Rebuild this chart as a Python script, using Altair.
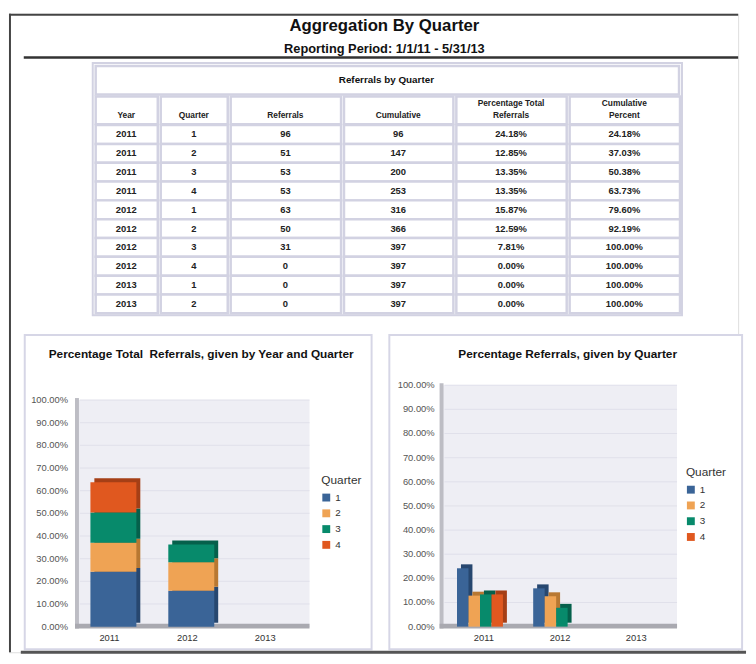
import altair as alt
import pandas as pd

# ---------------- data ----------------
years = ["2011", "2011", "2011", "2011", "2012", "2012", "2012", "2012", "2013", "2013"]
quarters = ["1", "2", "3", "4", "1", "2", "3", "4", "1", "2"]
referrals = [96, 51, 53, 53, 63, 50, 31, 0, 0, 0]
cumulative = [96, 147, 200, 253, 316, 366, 397, 397, 397, 397]
pct_total = [24.18, 12.85, 13.35, 13.35, 15.87, 12.59, 7.81, 0.00, 0.00, 0.00]
cum_pct = [24.18, 37.03, 50.38, 63.73, 79.60, 92.19, 100.00, 100.00, 100.00, 100.00]

year_cats = ["2011", "2012", "2013"]
quarter_cats = ["1", "2", "3", "4"]
y_ticks = [0, 10, 20, 30, 40, 50, 60, 70, 80, 90, 100]

page_title = "Aggregation By Quarter"
page_subtitle = "Reporting Period: 1/1/11 - 5/31/13"
table_title = "Referrals by Quarter"
col_headers = ["Year", "Quarter", "Referrals", "Cumulative",
               "Percentage Total\nReferrals", "Cumulative\nPercent"]
left_title = "Percentage Total \u00a0Referrals, given by Year and Quarter"
right_title = "Percentage Referrals, given by Quarter"
legend_title = "Quarter"

# ---------------- styles ----------------
FONT = "Liberation Sans"
Q_COLORS = ["#3A6497", "#EFA354", "#078A6B", "#E0581F"]
Q_DARK = ["#27476F", "#B87832", "#05604B", "#A53F16"]
GRID_C = "#D2D2E2"
PLOT_BG = "#EEEEF4"

W, H = 740, 648


def P(v):
    return v - 8


dummy = pd.DataFrame({"d": [0]})


def box(x0, x1, y0, y1, fill, stroke=None, sw=0):
    kw = dict(fill=fill)
    if stroke:
        kw.update(stroke=stroke, strokeWidth=sw)
    else:
        kw.update(strokeWidth=0)
    return alt.Chart(dummy).mark_rect(**kw).encode(
        x=alt.value(P(x0)), x2=alt.value(P(x1)), y=alt.value(P(y0)), y2=alt.value(P(y1)))


def hline(x0, x1, y, color, sw):
    return alt.Chart(dummy).mark_rule(color=color, strokeWidth=sw).encode(
        x=alt.value(P(x0)), x2=alt.value(P(x1)), y=alt.value(P(y)))


def label(text, x, y, size, weight="bold", align="center", color="#111",
          baseline="middle", line_h=None):
    return alt.Chart(pd.DataFrame({"t": [text]})).mark_text(
        font=FONT, fontSize=size, fontWeight=weight, align=align, baseline=baseline,
        color=color, lineBreak="\n", lineHeight=line_h or size + 2).encode(
        text="t:N", x=alt.value(P(x)), y=alt.value(P(y)))


layers = []

# ---------------- page frame & header ----------------
layers.append(alt.Chart(dummy).mark_rule(color="#444", strokeWidth=2).encode(
    x=alt.value(1), y=alt.value(0), y2=alt.value(H)))
layers.append(alt.Chart(dummy).mark_rule(color="#444", strokeWidth=2).encode(
    x=alt.value(0), x2=alt.value(W), y=alt.value(1)))
layers.append(hline(23, 748, 52.5, "#333", 2.5))
layers.append(label(page_title, 389, 21, 17))
layers.append(label(page_subtitle, 389, 44, 13))

# ---------------- table ----------------
bounds = [94, 160, 231, 346, 460, 575, 690]
centers = [(bounds[i] + bounds[i + 1]) / 2 for i in range(6)]
row_idx = list(range(len(years)))
tdf = pd.DataFrame({
    "row": row_idx,
    "c0": years,
    "c1": quarters,
    "c2": [str(v) for v in referrals],
    "c3": [str(v) for v in cumulative],
    "c4": [f"{v:.2f}%" for v in pct_total],
    "c5": [f"{v:.2f}%" for v in cum_pct],
})
row_scale = alt.Scale(type="band", domain=row_idx, range=[P(121), P(312)],
                      paddingInner=0, paddingOuter=0)

layers.append(box(93, 691, 58, 314, "white", GRID_C, 2))
layers.append(box(96, 688, 61, 90, "white", GRID_C, 2.5))
layers.append(label(table_title, 391, 75, 10))
for k in range(6):
    n_lines = col_headers[k].count("\n") + 1
    layers.append(box(bounds[k] + 2, bounds[k + 1] - 1, 92, 120, "white", GRID_C, 2.5))
    layers.append(label(col_headers[k], centers[k], 111 - 12 * (n_lines - 1), 8.5,
                        color="#222", line_h=12))
    layers.append(alt.Chart(tdf).mark_rect(fill="white", stroke=GRID_C, strokeWidth=2.5).encode(
        y=alt.Y("row:O", scale=row_scale, axis=None),
        x=alt.value(P(bounds[k] + 2)), x2=alt.value(P(bounds[k + 1] - 1))))
    layers.append(alt.Chart(tdf).mark_text(
        font=FONT, fontSize=9.5, fontWeight="bold", color="#222").encode(
        y=alt.Y("row:O", scale=row_scale, axis=None),
        x=alt.value(P(centers[k])),
        text=f"c{k}:N"))

# ---------------- chart helpers ----------------
cdf = pd.DataFrame({"Year": years, "Quarter": quarters, "Pct": pct_total})
tick_df = pd.DataFrame({"v": y_ticks})


def chart_frame(px0, px1, title, tx, plot_x0, plot_x1, plot_y0, plot_y1, lab_x, yscale):
    out = []
    out.append(box(px0, px1, 334, 653, "white", "#D6D6E6", 2))
    out.append(label(title, tx, 353, 12))
    out.append(box(plot_x0, plot_x1, plot_y0, plot_y1, PLOT_BG))
    out.append(alt.Chart(tick_df).mark_rule(color="#E0E0EA", strokeWidth=1).encode(
        y=alt.Y("v:Q", scale=yscale, axis=None),
        x=alt.value(P(plot_x0 + 2)), x2=alt.value(P(plot_x1))))
    out.append(box(plot_x0 - 3, plot_x0 + 1, plot_y0 - 2, plot_y1 + 2, "#BDBDC4"))
    out.append(box(plot_x0 - 3, plot_x1, plot_y1 - 3, plot_y1 + 2, "#A9A9B0"))
    out.append(alt.Chart(tick_df).transform_calculate(
        lab="format(datum.v, '.2f') + '%'").mark_text(
        font=FONT, fontSize=9.5, align="right", color="#555").encode(
        y=alt.Y("v:Q", scale=yscale, axis=None),
        x=alt.value(P(lab_x)), text="lab:N"))
    return out


def legend(x, y):
    return alt.Legend(title=legend_title, orient="none", legendX=P(x), legendY=P(y),
                      symbolType="square", symbolSize=64, symbolStrokeWidth=0,
                      titleFont=FONT, titleFontSize=12, titleFontWeight="normal",
                      titleColor="#333", labelFont=FONT, labelFontSize=10,
                      labelColor="#333", rowPadding=6, titlePadding=6)


# ---------------- left chart (stacked) ----------------
def lx(s=0):
    return alt.Scale(type="band", domain=year_cats, range=[P(78) + s, P(308) + s],
                     paddingInner=0.41, paddingOuter=0.16)


def ly(s=0):
    return alt.Scale(domain=[0, 100], range=[P(630) + s, P(400) + s], nice=False, zero=True)


layers += chart_frame(24, 376, left_title, 203, 78, 313, 400, 630, 68, ly())
layers.append(alt.Chart(cdf).mark_bar(strokeWidth=0).encode(
    x=alt.X("Year:N", scale=lx(4), axis=None),
    y=alt.Y("Pct:Q", stack="zero", scale=ly(-4), axis=None),
    color=alt.Color("Quarter:N", scale=alt.Scale(domain=quarter_cats, range=Q_DARK), legend=None),
    order=alt.Order("Quarter:N", sort="ascending")))
layers.append(alt.Chart(cdf).mark_bar(strokeWidth=0).encode(
    x=alt.X("Year:N", scale=lx(), axis=None),
    y=alt.Y("Pct:Q", stack="zero", scale=ly(), axis=None),
    color=alt.Color("Quarter:N", scale=alt.Scale(domain=quarter_cats, range=Q_COLORS),
                    legend=legend(325, 476)),
    order=alt.Order("Quarter:N", sort="ascending")))
layers.append(alt.Chart(pd.DataFrame({"Year": year_cats})).mark_text(
    font=FONT, fontSize=9.5, color="#333", dx=-4).encode(
    x=alt.X("Year:N", scale=lx(), axis=None), y=alt.value(P(642)), text="Year:N"))

# ---------------- right chart (grouped) ----------------
def rx(s=0):
    return alt.Scale(type="band", domain=year_cats, range=[P(448) + s, P(678.6) + s],
                     paddingInner=0.397, paddingOuter=0.19)


def ry(s=0):
    return alt.Scale(domain=[0, 100], range=[P(630) + s, P(385) + s], nice=False, zero=True)


xoff_scale = alt.Scale(domain=quarter_cats, paddingInner=0, paddingOuter=0)
layers += chart_frame(394, 752, right_title, 575, 448, 686, 385, 630, 440, ry())
layers.append(alt.Chart(cdf).mark_bar(strokeWidth=0).encode(
    x=alt.X("Year:N", scale=rx(4), axis=None),
    xOffset=alt.XOffset("Quarter:N", scale=xoff_scale),
    y=alt.Y("Pct:Q", scale=ry(-4), axis=None),
    color=alt.Color("Quarter:N", scale=alt.Scale(domain=quarter_cats, range=Q_DARK), legend=None)))
layers.append(alt.Chart(cdf).mark_bar(strokeWidth=0).encode(
    x=alt.X("Year:N", scale=rx(), axis=None),
    xOffset=alt.XOffset("Quarter:N", scale=xoff_scale),
    y=alt.Y("Pct:Q", scale=ry(), axis=None),
    color=alt.Color("Quarter:N", scale=alt.Scale(domain=quarter_cats, range=Q_COLORS),
                    legend=legend(695, 468))))
layers.append(alt.Chart(pd.DataFrame({"Year": year_cats})).mark_text(
    font=FONT, fontSize=9.5, color="#333", dx=4).encode(
    x=alt.X("Year:N", scale=rx(), axis=None), y=alt.value(P(642)), text="Year:N"))

# torn bottom edge
layers.append(hline(20, 756, 656, "#555", 3))

chart = alt.layer(*layers).resolve_scale(
    x="independent", y="independent", color="independent", xOffset="independent"
).properties(width=W, height=H, padding=0).configure_view(stroke=None).configure(font=FONT)

chart.save("out.html", embed_options={"renderer": "svg", "actions": False})
